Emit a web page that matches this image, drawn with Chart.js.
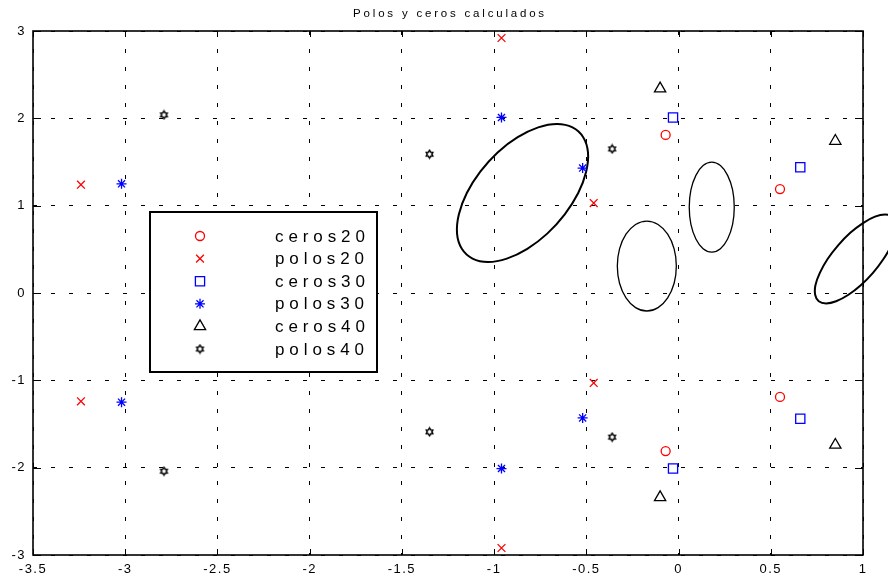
<!DOCTYPE html>
<html>
<head>
<meta charset="utf-8">
<script src="https://cdn.jsdelivr.net/npm/chart.js@4.4.0/dist/chart.umd.min.js"></script>
<style>
  html, body { margin: 0; padding: 0; background: #fff; }
  #wrap { width: 888px; height: 576px; }
</style>
</head>
<body>
<div id="wrap"><canvas id="pz"></canvas></div>
<script>
// ceros y polos de cada orden, pares [real, imag]
const ceros20 = [[-0.07, 1.81], [-0.07, -1.81], [0.55, 1.19], [0.55, -1.19]]
const polos20 = [[-3.24, 1.24], [-3.24, -1.24], [-0.96, 2.92], [-0.96, -2.92], [-0.46, 1.03], [-0.46, -1.03]]
const ceros30 = [[-0.03, 2.01], [-0.03, -2.01], [0.66, 1.44], [0.66, -1.44]]
const polos30 = [[-3.02, 1.25], [-3.02, -1.25], [-0.96, 2.01], [-0.96, -2.01], [-0.52, 1.43], [-0.52, -1.43]]
const ceros40 = [[-0.10, 2.34], [-0.10, -2.34], [0.85, 1.74], [0.85, -1.74]]
const polos40 = [[-2.79, 2.04], [-2.79, -2.04], [-1.35, 1.59], [-1.35, -1.59], [-0.36, 1.65], [-0.36, -1.65]]

// contornos cerrados (se recorren una vez, el cierre lo hace la linea)
const contornoA = [[-0.659, 1.935], [-0.575, 1.896], [-0.517, 1.784], [-0.491, 1.610], [-0.501, 1.389],
  [-0.544, 1.145], [-0.617, 0.901], [-0.712, 0.680], [-0.820, 0.506], [-0.931, 0.394], [-1.033, 0.355],
  [-1.117, 0.394], [-1.175, 0.506], [-1.201, 0.680], [-1.191, 0.901], [-1.148, 1.145], [-1.075, 1.389],
  [-0.981, 1.610], [-0.872, 1.784], [-0.761, 1.896]]
const contornoB = [[-0.172, 0.824], [-0.111, 0.785], [-0.059, 0.673], [-0.024, 0.506], [-0.012, 0.309],
  [-0.024, 0.112], [-0.059, -0.055], [-0.111, -0.167], [-0.172, -0.206], [-0.233, -0.167], [-0.285, -0.055],
  [-0.320, 0.112], [-0.332, 0.309], [-0.320, 0.506], [-0.285, 0.673], [-0.233, 0.785]]
const contornoC = [[0.180, 1.498], [0.227, 1.459], [0.266, 1.347], [0.293, 1.180], [0.302, 0.983],
  [0.293, 0.786], [0.266, 0.619], [0.227, 0.507], [0.180, 0.468], [0.133, 0.507], [0.094, 0.619],
  [0.067, 0.786], [0.058, 0.983], [0.067, 1.180], [0.094, 1.347], [0.133, 1.459]]
const contornoD = [[1.119, 0.899], [1.158, 0.874], [1.178, 0.801], [1.176, 0.689], [1.154, 0.546],
  [1.111, 0.389], [1.054, 0.231], [0.988, 0.089], [0.919, -0.023], [0.854, -0.095], [0.800, -0.120],
  [0.760, -0.095], [0.741, -0.023], [0.742, 0.089], [0.766, 0.231], [0.808, 0.389], [0.865, 0.546],
  [0.931, 0.689], [1.000, 0.801], [1.065, 0.874]]

const xTicks = [-3.5, -3, -2.5, -2, -1.5, -1, -0.5, 0, 0.5, 1]
const yTicks = [-3, -2, -1, 0, 1, 2, 3]

const FONT = "'Liberation Sans', Arial, sans-serif"

function hexagrama(r, color) {
  const s = 11
  const c = document.createElement('canvas')
  c.width = s
  c.height = s
  const g = c.getContext('2d')
  g.strokeStyle = color
  g.lineWidth = 1.5
  g.beginPath()
  for (let i = 0; i < 12; i++) {
    const a = -Math.PI / 2 + i * Math.PI / 6
    const rr = i % 2 ? r * 0.62 : r
    const px = s / 2 + rr * Math.cos(a)
    const py = s / 2 + rr * Math.sin(a)
    if (i) g.lineTo(px, py)
    else g.moveTo(px, py)
  }
  g.closePath()
  g.stroke()
  return c
}

const toPts = arr => arr.map(([x, y]) => ({ x, y }))

const marca = (label, pts, style, color, radius) => ({
  label,
  data: toPts(pts),
  showLine: false,
  pointStyle: style,
  pointRadius: radius,
  pointBorderWidth: 1.3,
  borderColor: color,
  backgroundColor: 'rgba(0,0,0,0)'
})

const curva = (pts, w) => ({
  label: '',
  cerrado: true,
  data: toPts(pts),
  showLine: true,
  borderColor: '#000',
  borderWidth: w,
  pointRadius: 0,
  tension: 0.4,
  capBezierPoints: false,
  fill: false,
  clip: false
})

// el scatter no calcula los puntos de control: se cierran y suavizan aqui
const suavizado = {
  id: 'suavizado',
  beforeDatasetsDraw(chart) {
    chart.data.datasets.forEach((ds, i) => {
      if (!ds.cerrado) return
      const line = chart.getDatasetMeta(i).dataset
      if (!line) return
      line._loop = true
      line._fullLoop = true
      line._pointsUpdated = false
      line._path = undefined
      line.updateControlPoints(chart.chartArea, 'x')
    })
  }
}

// caja de ejes con marcas hacia dentro
const cajaEjes = {
  id: 'cajaEjes',
  afterDraw(chart) {
    const { ctx, chartArea: a, scales } = chart
    ctx.save()
    ctx.strokeStyle = '#000'
    ctx.lineWidth = 1
    ctx.beginPath()
    xTicks.forEach(v => {
      const px = Math.round(scales.x.getPixelForValue(v)) + 0.5
      ctx.moveTo(px, a.bottom); ctx.lineTo(px, a.bottom - 6)
      ctx.moveTo(px, a.top); ctx.lineTo(px, a.top + 6)
    })
    yTicks.forEach(v => {
      const py = Math.round(scales.y.getPixelForValue(v)) + 0.5
      ctx.moveTo(a.left, py); ctx.lineTo(a.left + 8, py)
      ctx.moveTo(a.right, py); ctx.lineTo(a.right - 8, py)
    })
    ctx.stroke()
    ctx.lineWidth = 1.6
    ctx.strokeRect(a.left, a.top, a.right - a.left, a.bottom - a.top)

    // titulo
    ctx.fillStyle = '#000'
    ctx.font = '11.5px ' + FONT
    ctx.letterSpacing = '2.8px'
    ctx.textAlign = 'center'
    ctx.textBaseline = 'middle'
    ctx.fillText('Polos y ceros calculados', (a.left + a.right) / 2 + 2, 14)
    ctx.restore()
  }
}

// leyenda dentro de los ejes
const leyenda = {
  id: 'leyenda',
  afterDraw(chart) {
    const { ctx, chartArea: a } = chart
    const x0 = a.left + 117, y0 = a.top + 181
    ctx.save()
    ctx.fillStyle = '#fff'
    ctx.fillRect(x0, y0, 227, 160)
    ctx.strokeStyle = '#000'
    ctx.lineWidth = 2
    ctx.strokeRect(x0, y0, 227, 160)
    ctx.font = '17px ' + FONT
    ctx.letterSpacing = '4.9px'
    ctx.textBaseline = 'middle'
    chart.data.datasets.slice(0, 6).forEach((ds, i) => {
      const cy = y0 + 24 + i * 22.6
      ctx.strokeStyle = ds.borderColor
      ctx.fillStyle = 'rgba(0,0,0,0)'
      ctx.lineWidth = ds.pointBorderWidth
      Chart.helpers.drawPoint(ctx, { pointStyle: ds.pointStyle, radius: ds.pointRadius, borderWidth: ds.pointBorderWidth, rotation: 0 }, x0 + 50, cy)
      ctx.fillStyle = '#000'
      ctx.fillText(ds.label, x0 + 125, cy + 1)
    })
    ctx.restore()
  }
}

const espaciado = {
  id: 'espaciado',
  beforeDraw(chart) {
    chart.ctx.letterSpacing = '1.5px'
  }
}

new Chart(document.getElementById('pz'), {
  type: 'scatter',
  data: {
    datasets: [
      marca('ceros20', ceros20, 'circle', '#ff0000', 4.5),
      marca('polos20', polos20, 'crossRot', '#ff0000', 5.5),
      marca('ceros30', ceros30, 'rect', '#0000ff', 6.5),
      marca('polos30', polos30, 'star', '#0000ff', 5),
      marca('ceros40', ceros40, 'triangle', '#000000', 6.5),
      marca('polos40', polos40, hexagrama(3.8, '#000'), '#000000', 4),
      curva(contornoA, 2),
      curva(contornoB, 1.3),
      curva(contornoC, 1.3),
      curva(contornoD, 2)
    ]
  },
  options: {
    responsive: true,
    maintainAspectRatio: false,
    animation: false,
    layout: {
      padding: { top: 31, right: 25, left: 0, bottom: 0 }
    },
    plugins: {
      legend: { display: false },
      tooltip: { enabled: false },
      title: { display: false }
    },
    scales: {
      x: {
        type: 'linear',
        min: -3.5,
        max: 1,
        afterFit: s => { s.height = 21 },
        afterBuildTicks: s => { s.ticks = xTicks.map(value => ({ value })) },
        grid: { color: '#000', lineWidth: 1, drawTicks: false },
        border: { display: false, dash: [4, 14] },
        ticks: { color: '#000', padding: 7, maxRotation: 0, callback: v => String(v), font: { family: FONT, size: 13 } }
      },
      y: {
        type: 'linear',
        min: -3,
        max: 3,
        afterFit: s => { s.width = 33 },
        afterBuildTicks: s => { s.ticks = yTicks.map(value => ({ value })) },
        grid: { color: '#000', lineWidth: 1, drawTicks: false },
        border: { display: false, dash: [4, 14] },
        ticks: { color: '#000', padding: 7, callback: v => String(v), font: { family: FONT, size: 13 } }
      }
    }
  },
  plugins: [espaciado, suavizado, cajaEjes, leyenda]
})
</script>
</body>
</html>
